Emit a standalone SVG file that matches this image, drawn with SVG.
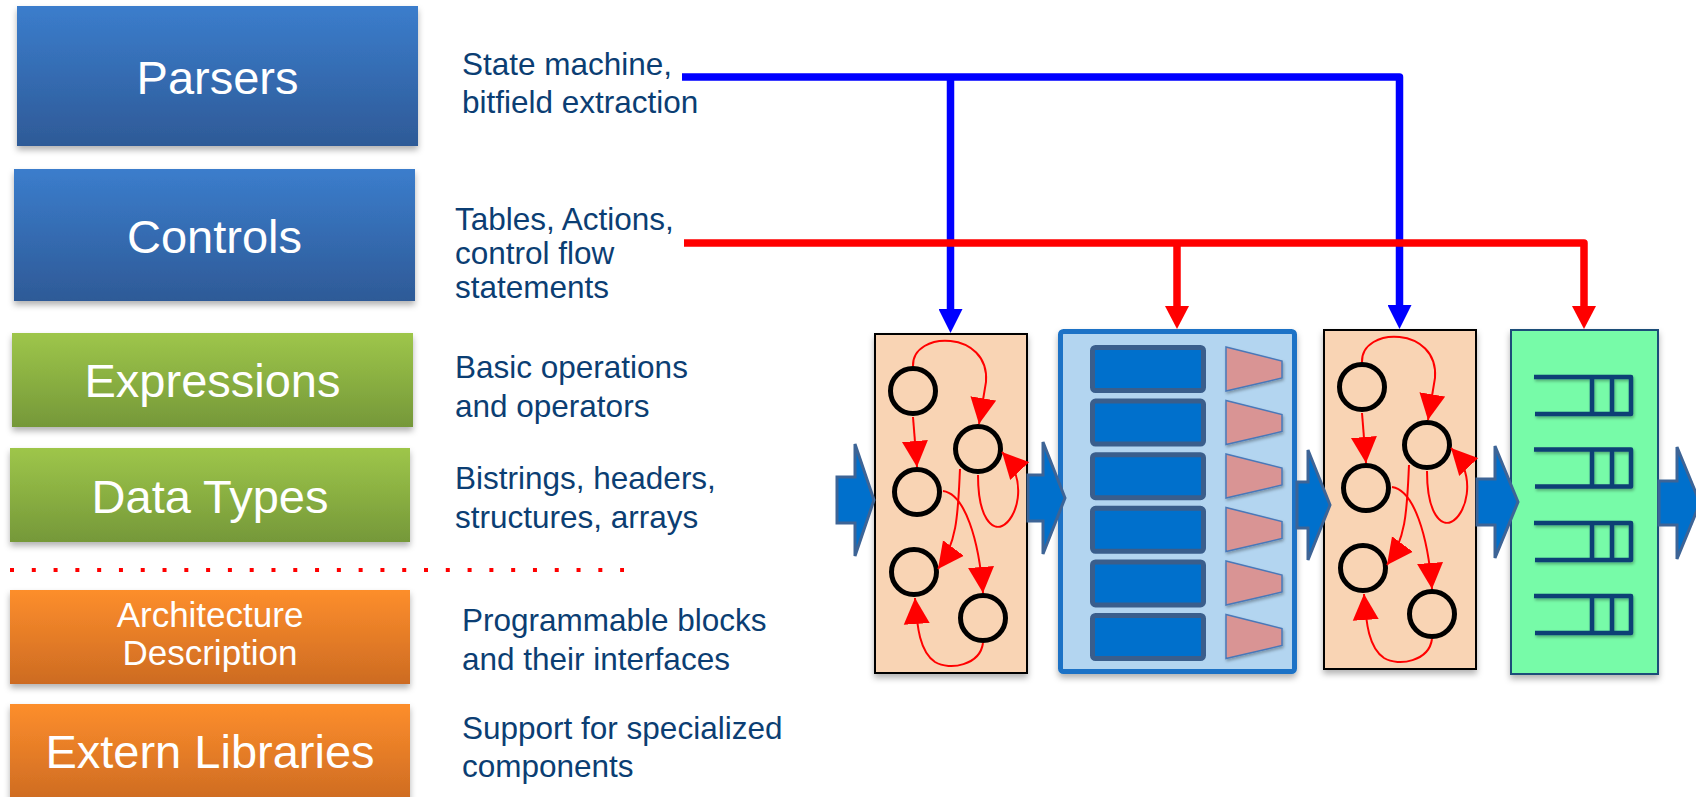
<svg xmlns="http://www.w3.org/2000/svg" xmlns:xlink="http://www.w3.org/1999/xlink" width="1696" height="797" viewBox="0 0 1696 797">
  <style>
    .lbl { font-family: "Liberation Sans", Arial, sans-serif; fill: #ffffff; text-anchor: middle; }
    .big { font-size: 47px; }
    .mid { font-size: 35px; }
    .desc { font-family: "Liberation Sans", Arial, sans-serif; font-size: 31.5px; fill: #0b3e73; }
    .state { fill: none; stroke: #000000; stroke-width: 5; }
    .trans { fill: none; stroke: #ff0000; stroke-width: 2; marker-end: url(#redHead); }
    .flow { fill: #0070cc; stroke: #3d6496; stroke-width: 3; stroke-linejoin: miter; }
    .bus { fill: none; stroke-width: 7.5; stroke-linejoin: round; }
    .busBlue { stroke: #0000ff; marker-end: url(#blueTip); }
    .busRed { stroke: #ff0000; marker-end: url(#redTip); }
    .slot { fill: #0070cc; stroke: #3a5e8c; stroke-width: 5; }
    .mux { fill: #d99494; stroke: #4a78b8; stroke-width: 1.5; }
    .queue { fill: none; stroke: #0b3f74; stroke-width: 4.5; stroke-linejoin: round; }
  </style>
  <defs>
    <linearGradient id="gBlue" x1="0" y1="0" x2="0" y2="1">
      <stop offset="0" stop-color="#3b7dcc"/>
      <stop offset="1" stop-color="#2e5a97"/>
    </linearGradient>
    <linearGradient id="gGreen" x1="0" y1="0" x2="0" y2="1">
      <stop offset="0" stop-color="#9ec64a"/>
      <stop offset="1" stop-color="#759839"/>
    </linearGradient>
    <linearGradient id="gOrange" x1="0" y1="0" x2="0" y2="1">
      <stop offset="0" stop-color="#fd8e2c"/>
      <stop offset="1" stop-color="#cd6b22"/>
    </linearGradient>
    <filter id="shadow" x="-10%" y="-10%" width="120%" height="130%">
      <feDropShadow dx="0" dy="4" stdDeviation="3" flood-color="#000000" flood-opacity="0.3"/>
    </filter>
    <filter id="softShadow" x="-10%" y="-20%" width="120%" height="150%">
      <feDropShadow dx="1" dy="2" stdDeviation="1.5" flood-color="#000000" flood-opacity="0.3"/>
    </filter>
    <!-- arrowheads for the parser/control buses -->
    <marker id="blueTip" markerUnits="userSpaceOnUse" markerWidth="24" markerHeight="24" refX="0" refY="12" orient="auto" viewBox="0 0 24 24">
      <path d="M0,0 L24,12 L0,24 Z" fill="#0000ff"/>
    </marker>
    <marker id="redTip" markerUnits="userSpaceOnUse" markerWidth="24" markerHeight="24" refX="0" refY="12" orient="auto" viewBox="0 0 24 24">
      <path d="M0,0 L23,12 L0,24 Z" fill="#ff0000"/>
    </marker>
    <!-- arrowhead for state transitions -->
    <marker id="redHead" markerUnits="userSpaceOnUse" markerWidth="27" markerHeight="27" refX="26" refY="13" orient="auto" viewBox="0 0 27 26">
      <path d="M0,0 L26,13 L0,26 Z" fill="#ff0000"/>
    </marker>
    <!-- parser state machine, drawn in the first parser block's coordinates -->
    <g id="stateMachine">
      <circle class="state" cx="913" cy="391" r="22.5"/>
      <circle class="state" cx="978" cy="449" r="22.5"/>
      <circle class="state" cx="917" cy="492" r="22.5"/>
      <circle class="state" cx="914" cy="572" r="22.5"/>
      <circle class="state" cx="983" cy="618" r="22.5"/>
      <path class="trans" d="M913,366 C912,330 990,330 986,382 L979,424"/>
      <path class="trans" d="M913,417 L917,467"/>
      <path class="trans" d="M960,469 C958,510 958,542 938,569"/>
      <path class="trans" d="M943,491 C965,494 979,540 983,593"/>
      <path class="trans" d="M978,475 C978,520 993,530 1002,526 C1016,520 1030,482 1002,452"/>
      <path class="trans" d="M983,643 C980,665 950,671 935,662 C920,652 917,628 915,598"/>
    </g>
    <rect id="slot" class="slot" x="1092.5" y="347.5" width="111" height="43" rx="3"/>
    <polygon id="mux" class="mux" points="1226,347 1282,361 1282,378 1226,391"/>
    <path id="queue" class="queue" d="M1534,377 H1631 V414 H1535 M1592,377 V414 M1612,377 V414"/>
  </defs>

  <!-- language component labels -->
  <g id="parsers">
    <rect x="17" y="6" width="401" height="140" fill="url(#gBlue)" filter="url(#shadow)"/>
    <text class="lbl big" x="217.5" y="94">Parsers</text>
  </g>
  <g id="controls">
    <rect x="14" y="169" width="401" height="132" fill="url(#gBlue)" filter="url(#shadow)"/>
    <text class="lbl big" x="214.5" y="253">Controls</text>
  </g>
  <g id="expressions">
    <rect x="12" y="333" width="401" height="94" fill="url(#gGreen)" filter="url(#shadow)"/>
    <text class="lbl big" x="212.5" y="397">Expressions</text>
  </g>
  <g id="data-types">
    <rect x="10" y="448" width="400" height="94" fill="url(#gGreen)" filter="url(#shadow)"/>
    <text class="lbl big" x="210" y="513">Data Types</text>
  </g>
  <g id="architecture">
    <rect x="10" y="590" width="400" height="94" fill="url(#gOrange)" filter="url(#shadow)"/>
    <text class="lbl mid" x="210" y="627">Architecture</text>
    <text class="lbl mid" x="210" y="665">Description</text>
  </g>
  <g id="extern-libraries">
    <rect x="10" y="704" width="400" height="98" fill="url(#gOrange)" filter="url(#shadow)"/>
    <text class="lbl big" x="210" y="768">Extern Libraries</text>
  </g>

  <!-- separator between language and architecture -->
  <line id="separator" x1="10" y1="570" x2="624" y2="570" stroke="#ff0000" stroke-width="4" stroke-dasharray="4 17.79"/>

  <!-- descriptions -->
  <g id="descriptions">
    <text class="desc" x="462" y="75">State machine,</text>
    <text class="desc" x="462" y="113">bitfield extraction</text>
    <text class="desc" x="455" y="230">Tables, Actions,</text>
    <text class="desc" x="455" y="264">control flow</text>
    <text class="desc" x="455" y="298">statements</text>
    <text class="desc" x="455" y="378">Basic operations</text>
    <text class="desc" x="455" y="417">and operators</text>
    <text class="desc" x="455" y="489">Bistrings, headers,</text>
    <text class="desc" x="455" y="528">structures, arrays</text>
    <text class="desc" x="462" y="631">Programmable blocks</text>
    <text class="desc" x="462" y="670">and their interfaces</text>
    <text class="desc" x="462" y="739">Support for specialized</text>
    <text class="desc" x="462" y="777">components</text>
  </g>

  <!-- pipeline blocks -->
  <g id="parser-1">
    <rect x="875" y="334" width="152" height="339" fill="#f9d4b4" stroke="#000000" stroke-width="2" filter="url(#shadow)"/>
    <use xlink:href="#stateMachine"/>
  </g>
  <g id="match-action">
    <rect x="1060.5" y="331.5" width="234" height="340" rx="3" fill="#b3d5f0" stroke="#1a72c6" stroke-width="5" filter="url(#shadow)"/>
    <use xlink:href="#slot"/>
    <use xlink:href="#slot" y="53.6"/>
    <use xlink:href="#slot" y="107.2"/>
    <use xlink:href="#slot" y="160.8"/>
    <use xlink:href="#slot" y="214.4"/>
    <use xlink:href="#slot" y="268"/>
    <g filter="url(#softShadow)">
      <use xlink:href="#mux"/>
      <use xlink:href="#mux" y="53.5"/>
      <use xlink:href="#mux" y="107"/>
      <use xlink:href="#mux" y="160.5"/>
      <use xlink:href="#mux" y="214"/>
      <use xlink:href="#mux" y="267.5"/>
    </g>
  </g>
  <g id="parser-2">
    <rect x="1324" y="330" width="152" height="339" fill="#f9d4b4" stroke="#000000" stroke-width="2" filter="url(#shadow)"/>
    <use xlink:href="#stateMachine" transform="translate(449,-4)"/>
  </g>
  <g id="queues">
    <rect x="1511" y="330" width="147" height="344" fill="#77fba8" stroke="#1f4e79" stroke-width="2" filter="url(#shadow)"/>
    <g filter="url(#softShadow)">
      <use xlink:href="#queue"/>
      <use xlink:href="#queue" y="72.5"/>
      <use xlink:href="#queue" y="146"/>
      <use xlink:href="#queue" y="219"/>
    </g>
  </g>

  <!-- packet flow arrows -->
  <g id="flow-arrows">
    <path class="flow" d="M837,477 H855 V444 L874,500 L855,556 V523 H837 Z"/>
    <path class="flow" d="M1028,475 H1043 V442 L1065,498 L1043,554 V521 H1028 Z"/>
    <path class="flow" d="M1297,482 H1308 V450 L1330,505 L1308,560 V528 H1297 Z"/>
    <path class="flow" d="M1477,479 H1495 V446 L1518,502 L1495,558 V525 H1477 Z"/>
    <path class="flow" d="M1659,481 H1677 V447 L1700,503 L1677,559 V525 H1659 Z"/>
  </g>

  <!-- parser and control buses -->
  <g id="connectors">
    <path class="bus busBlue" d="M682,77 H1399.5 V305"/>
    <path class="bus busBlue" d="M950.5,77 V309"/>
    <path class="bus busRed" d="M684,243 H1584 V306"/>
    <path class="bus busRed" d="M1177,243 V306"/>
  </g>
</svg>
